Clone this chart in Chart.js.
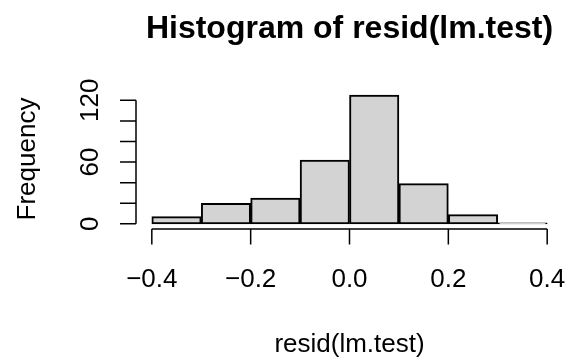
<!DOCTYPE html>
<html>
<head>
<meta charset="utf-8">
<script src="https://cdn.jsdelivr.net/npm/chart.js@4"></script>
<style>
  html, body { margin: 0; padding: 0; background: #fff; }
  #wrap { width: 571px; height: 362px; }
</style>
</head>
<body>
<div id="wrap"><canvas id="histograma"></canvas></div>
<script>
// histogram bins (midpoints) and counts
let centros = [-0.35, -0.25, -0.15, -0.05, 0.05, 0.15, 0.25, 0.35];
let frequencias = [7, 20, 25, 62, 125, 39, 9, 1];

// axis ticks
let xTicks = [-0.4, -0.2, 0, 0.2, 0.4];
let xTickLabels = ['\u22120.4', '\u22120.2', '0.0', '0.2', '0.4'];
let yTicks = [0, 20, 40, 60, 80, 100, 120];
let yTickLabels = { 0: '0', 60: '60', 120: '120' };

let fonte = '"Liberation Sans", Arial, Helvetica, sans-serif';

// R-like axes, title and labels
let eixosR = {
    id: 'eixosR',
    afterDraw(chart) {
        let ctx = chart.ctx;
        let x = chart.scales.x;
        let y = chart.scales.y;
        let area = chart.chartArea;
        ctx.save();
        ctx.strokeStyle = '#000';
        ctx.fillStyle = '#000';
        ctx.lineWidth = 1.5;

        // x axis
        let yLinha = area.bottom;
        ctx.beginPath();
        ctx.moveTo(x.getPixelForValue(xTicks[0]), yLinha);
        ctx.lineTo(x.getPixelForValue(xTicks[xTicks.length - 1]), yLinha);
        xTicks.forEach(v => {
            let px = x.getPixelForValue(v);
            ctx.moveTo(px, yLinha);
            ctx.lineTo(px, yLinha + 15.5);
        });
        ctx.stroke();
        ctx.font = '26px ' + fonte;
        ctx.textAlign = 'center';
        ctx.textBaseline = 'alphabetic';
        xTicks.forEach((v, i) => {
            ctx.fillText(xTickLabels[i], x.getPixelForValue(v), 287);
        });

        // y axis
        let xLinha = area.left;
        ctx.beginPath();
        ctx.moveTo(xLinha, y.getPixelForValue(yTicks[0]));
        ctx.lineTo(xLinha, y.getPixelForValue(yTicks[yTicks.length - 1]));
        yTicks.forEach(v => {
            let py = y.getPixelForValue(v);
            ctx.moveTo(xLinha, py);
            ctx.lineTo(xLinha - 16, py);
        });
        ctx.stroke();
        yTicks.forEach(v => {
            if (yTickLabels[v] === undefined) return;
            ctx.save();
            ctx.translate(98, y.getPixelForValue(v));
            ctx.rotate(-Math.PI / 2);
            ctx.fillText(yTickLabels[v], 0, 0);
            ctx.restore();
        });

        // axis titles
        let meioX = (x.getPixelForValue(-0.4) + x.getPixelForValue(0.4)) / 2;
        ctx.fillText('resid(lm.test)', meioX, 352);
        ctx.save();
        ctx.translate(35, 159);
        ctx.rotate(-Math.PI / 2);
        ctx.fillText('Frequency', 0, 0);
        ctx.restore();

        // main title
        ctx.font = 'bold 32px ' + fonte;
        ctx.fillText('Histogram of resid(lm.test)', meioX, 37.5);
        ctx.restore();
    }
};

let grafico = document.getElementById('histograma').getContext('2d');

let histograma = new Chart(grafico, {
    type: 'bar',
    data: {
        datasets: [{
            data: centros.map((c, i) => ({ x: c, y: frequencias[i] })),
            backgroundColor: '#d3d3d3',
            borderColor: '#000',
            borderWidth: 2,
            borderSkipped: false,
            barPercentage: 1,
            categoryPercentage: 1,
            clip: false
        }]
    },
    options: {
        responsive: true,
        maintainAspectRatio: false,
        animation: false,
        layout: {
            padding: { left: 136, right: 8, top: 90, bottom: 133 }
        },
        plugins: {
            legend: { display: false },
            title: { display: false },
            tooltip: { enabled: false }
        },
        scales: {
            x: { type: 'linear', min: -0.432, max: 0.432, offset: false, display: false },
            y: { min: -5, max: 130, display: false }
        }
    },
    plugins: [eixosR]
});
</script>
</body>
</html>
